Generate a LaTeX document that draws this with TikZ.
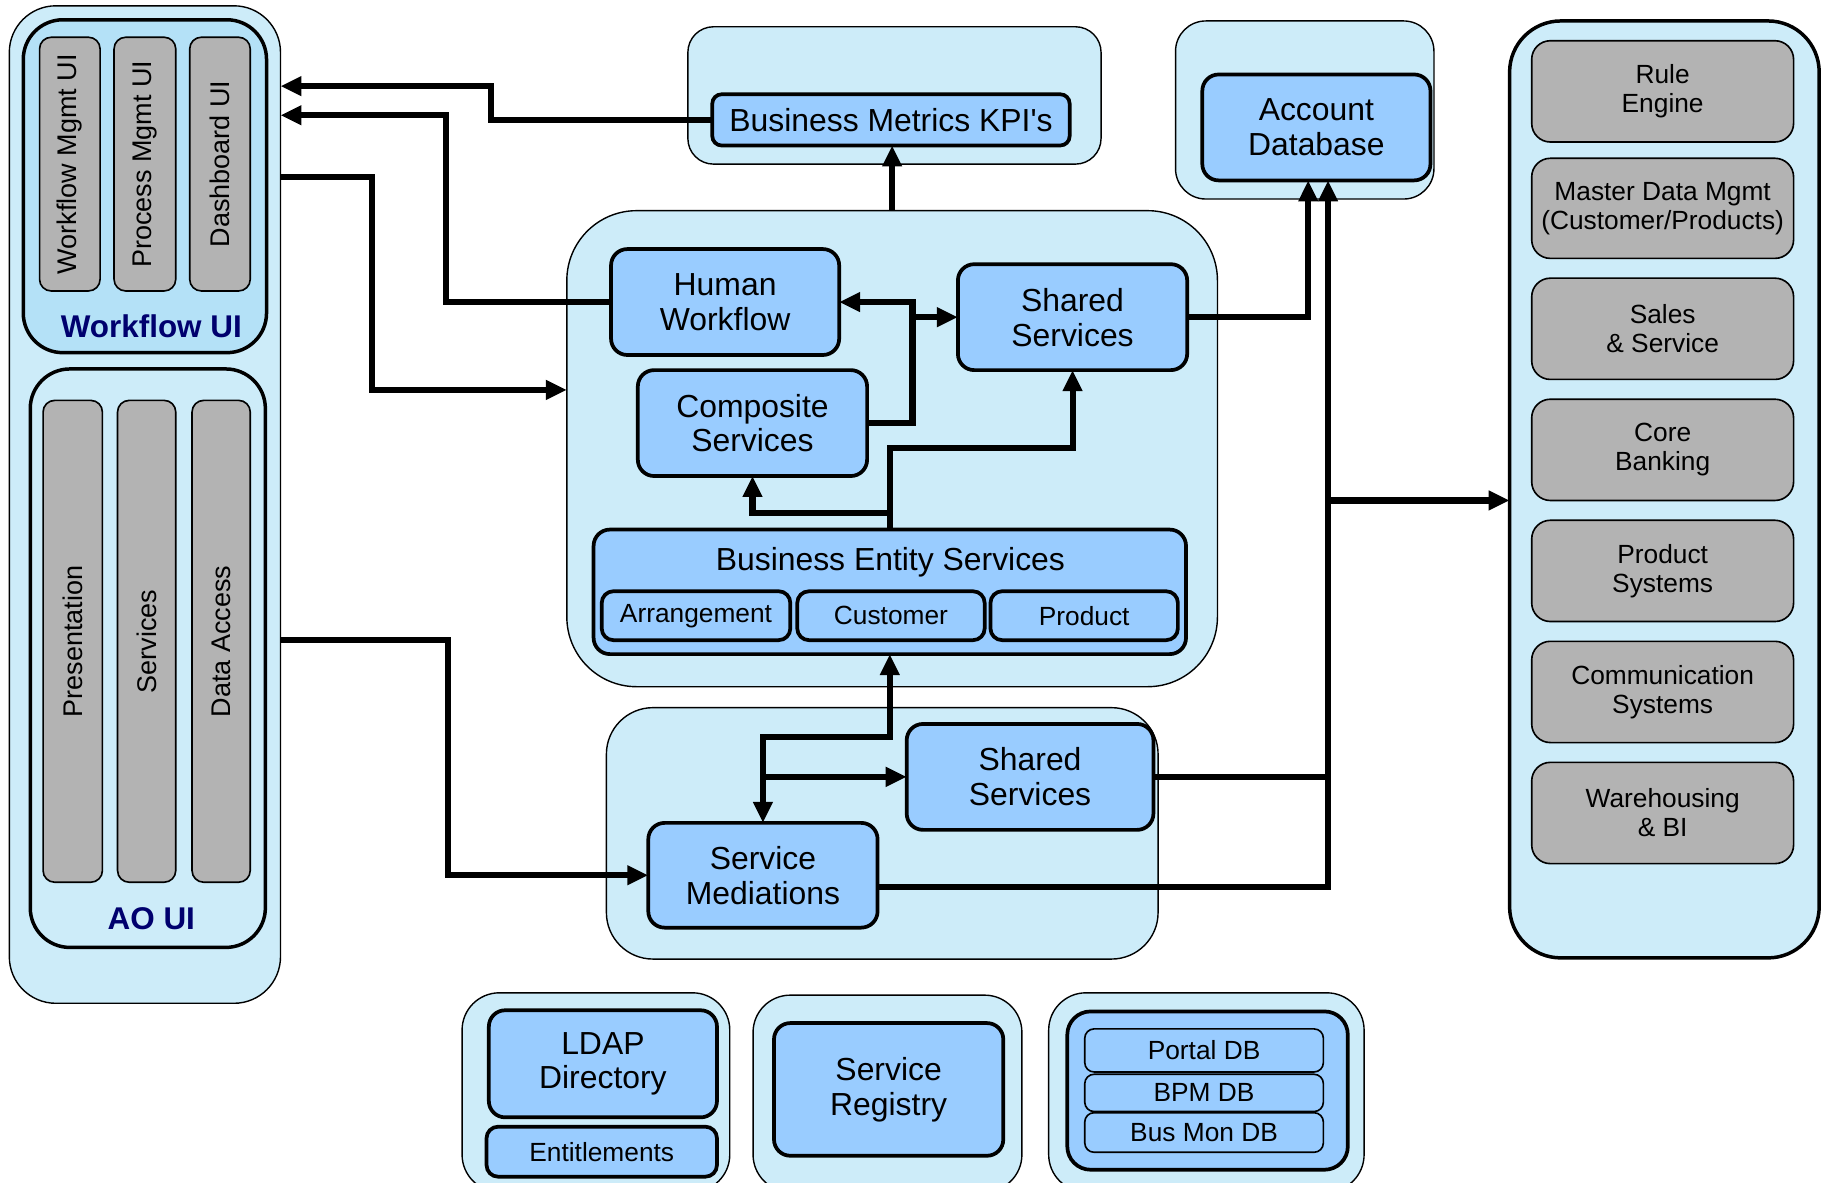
\documentclass[tikz,border=0pt]{standalone}
\usepackage{fontspec}
\setmainfont{Liberation Sans}
\usetikzlibrary{arrows.meta}
\definecolor{contblue}{RGB}{205,236,249}
\definecolor{wfblue}{RGB}{180,225,247}
\definecolor{boxblue}{RGB}{153,204,255}
\definecolor{bargray}{RGB}{179,179,179}
\definecolor{navy}{RGB}{0,0,110}
\newcommand\fbig{\fontsize{13.7}{15}\selectfont}
\newcommand\fsml{\fontsize{11.3}{12.5}\selectfont}
\newcommand\fbar{\fontsize{11.6}{13}\selectfont}
\newcommand\fhead{\fontsize{13.5}{15}\selectfont\bfseries}
\newcommand\mkbox[7]{%
  \pgfmathsetmacro\mkw{(#5-#3)*0.5}%
  \pgfmathsetmacro\mkh{(#6-#4)*0.5}%
  \pgfmathsetmacro\mkx{(#3+#5)/2}%
  \pgfmathsetmacro\mky{(#4+#6)/2}%
  \node[#1, minimum width=\mkw pt, minimum height=\mkh pt] (#2) at (\mkx,\mky) {#7};%
}
\begin{document}
\begin{tikzpicture}[x=0.5pt,y=-0.5pt,
  base/.style={inner sep=0pt, outer sep=0pt, align=center},
  cont/.style={base, draw=black, line width=0.6pt, fill=contblue},
  tcont/.style={base, draw=black, line width=1.5pt, fill=contblue},
  bbox/.style={base, draw=black, line width=1.6pt, fill=boxblue, rounded corners=7pt, font=\fbig},
  sbox/.style={base, draw=black, line width=1.6pt, fill=boxblue, rounded corners=5pt, font=\fsml},
  tbox/.style={base, draw=black, line width=0.7pt, fill=boxblue, rounded corners=4pt, font=\fsml},
  bar/.style={base, draw=black, line width=0.7pt, fill=bargray, rounded corners=5pt, font=\fbar},
  gbox/.style={base, draw=black, line width=0.7pt, fill=bargray, rounded corners=8pt, font=\fsml},
  conn/.style={draw=black, line width=2.6pt},
  >={Triangle[length=9pt,width=8pt]}
]
\useasboundingbox (0,0) rectangle (1568,1016);

% ---- left container
\mkbox{cont, rounded corners=20pt}{lc}{8}{5}{241}{862}{}
\mkbox{tcont, fill=wfblue, rounded corners=17pt}{wfui}{20}{17}{229}{303}{}
\mkbox{bar}{wb1}{34}{32}{86}{250}{\rotatebox{90}{Workflow Mgmt UI}}
\mkbox{bar}{wb2}{98}{32}{151}{250}{\rotatebox{90}{Process Mgmt UI}}
\mkbox{bar}{wb3}{163}{32}{215}{250}{\rotatebox{90}{Dashboard UI}}
\node[base, font=\fhead, text=navy] (wftitle) at (130,280) {Workflow UI};
\mkbox{tcont, rounded corners=17pt}{aoui}{26}{317}{228}{814}{}
\mkbox{bar}{ab1}{37}{344}{88}{758}{\rotatebox{90}{Presentation}}
\mkbox{bar}{ab2}{101}{344}{151}{758}{\rotatebox{90}{Services}}
\mkbox{bar}{ab3}{165}{344}{215}{758}{\rotatebox{90}{Data Access}}
\node[base, font=\fhead, text=navy] (aotitle) at (130,789) {AO UI};

% ---- business metrics
\mkbox{cont, rounded corners=11pt}{bmc}{591}{23}{946}{141}{}
\mkbox{bbox, rounded corners=4pt}{bm}{612}{81}{919}{125}{Business Metrics KPI\textquotesingle s}

% ---- account database
\mkbox{cont, rounded corners=13pt}{adc}{1010}{18}{1232}{171}{}
\mkbox{bbox}{adb}{1033}{64}{1229}{155}{Account\\Database}

% ---- right container
\mkbox{tcont, rounded corners=22pt}{rc}{1297}{18}{1563}{823}{}
\mkbox{gbox}{rg1}{1316}{35}{1541}{122}{Rule\\Engine}
\mkbox{gbox}{rg2}{1316}{136}{1541}{222}{Master Data Mgmt\\(Customer/Products)}
\mkbox{gbox}{rg3}{1316}{239}{1541}{326}{Sales\\\& Service}
\mkbox{gbox}{rg4}{1316}{343}{1541}{430}{Core\\Banking}
\mkbox{gbox}{rg5}{1316}{447}{1541}{534}{Product\\Systems}
\mkbox{gbox}{rg6}{1316}{551}{1541}{638}{Communication\\Systems}
\mkbox{gbox}{rg7}{1316}{655}{1541}{742}{Warehousing\\\& BI}

% ---- central container
\mkbox{cont, rounded corners=30pt}{cc}{487}{181}{1046}{590}{}
\mkbox{bbox}{hw}{525}{214}{721}{305}{Human\\Workflow}
\mkbox{bbox}{cs}{548}{318}{745}{409}{Composite\\Services}
\mkbox{bbox}{ss1}{823}{227}{1020}{318}{Shared\\Services}
\mkbox{bbox}{bes}{510}{455}{1019}{562}{}
\node[base, font=\fbig] (bestitle) at (765,483) {Business Entity Services};
\mkbox{sbox}{arr}{517}{508}{679}{550}{Arrangement}
\mkbox{sbox}{cus}{685}{508}{846}{550}{Customer}
\mkbox{sbox}{prd}{851}{508}{1012}{550}{Product}

% ---- lower container
\mkbox{cont, rounded corners=20pt}{lcc}{521}{608}{995}{824}{}
\mkbox{bbox}{ss2}{779}{622}{991}{713}{Shared\\Services}
\mkbox{bbox}{sm}{557}{707}{754}{797}{Service\\Mediations}

% ---- bottom containers
\mkbox{cont, rounded corners=16pt}{ldc}{397}{853}{627}{1024}{}
\mkbox{bbox}{ldap}{420}{868}{616}{960}{LDAP\\Directory}
\mkbox{sbox}{ent}{418}{968}{616}{1011}{Entitlements}
\mkbox{cont, rounded corners=16pt}{src}{647}{855}{878}{1024}{}
\mkbox{bbox}{sr}{665}{879}{862}{993}{Service\\Registry}
\mkbox{cont, rounded corners=16pt}{dbc}{901}{853}{1172}{1024}{}
\mkbox{bbox, rounded corners=10pt}{dbi}{917}{869}{1158}{1005}{}
\mkbox{tbox}{pdb}{932}{884}{1137}{921}{Portal DB}
\mkbox{tbox}{bpm}{932}{923}{1137}{955}{BPM DB}
\mkbox{tbox}{bmdb}{932}{956}{1137}{990}{Bus Mon DB}

% ---- connectors
\coordinate (k2) at (422,74);
\draw[conn,->] (bm.west) -| (k2) -- (k2 -| lc.east);
\coordinate (k3) at (383,99);
\draw[conn,->] (hw.west) -| (k3) -- (k3 -| lc.east);
\coordinate (k4) at (320,152);
\coordinate (k5) at (320,335);
\draw[conn,->] (k4 -| lc.east) -- (k4) -- (k5) -- (k5 -| cc.west);
\coordinate (k6) at (385,550);
\draw[conn,->] (k6 -| lc.east) -- (k6) |- (sm.west);
\draw[conn,->] (cc.north) -- (cc.north |- bm.south);
\coordinate (k7) at (1124,0);
\draw[conn,->] (ss1.east) -| (k7 |- adb.south);
\coordinate (k8) at (784,0);
\draw[conn,->] (cs.east) -| (k8 |- hw.east) -- (hw.east);
\draw[conn,->] (k8 |- ss1.west) -- (ss1.west);
\coordinate (k9) at (0,441);
\coordinate (k10) at (0,385);
\draw[conn,->] (bes.north) -- (bes.north |- k9) -| (cs.south);
\draw[conn,->] (bes.north |- k9) -- (bes.north |- k10) -| (ss1.south);
\coordinate (k11) at (0,633);
\draw[conn,<->] (bes.south) -- (bes.south |- k11) -| (sm.north);
\draw[conn,->] (sm.north |- ss2.west) -- (ss2.west);
\coordinate (k13) at (1141,0);
\coordinate (k14) at (0,762);
\draw[conn] (ss2.east) -- (ss2.east -| k13);
\draw[conn,->] (k14 -| sm.east) -| (k13 |- adb.south);
\coordinate (k15) at (1141,430);
\draw[conn,->] (k15) -- (k15 -| rc.west);
\end{tikzpicture}
\end{document}
